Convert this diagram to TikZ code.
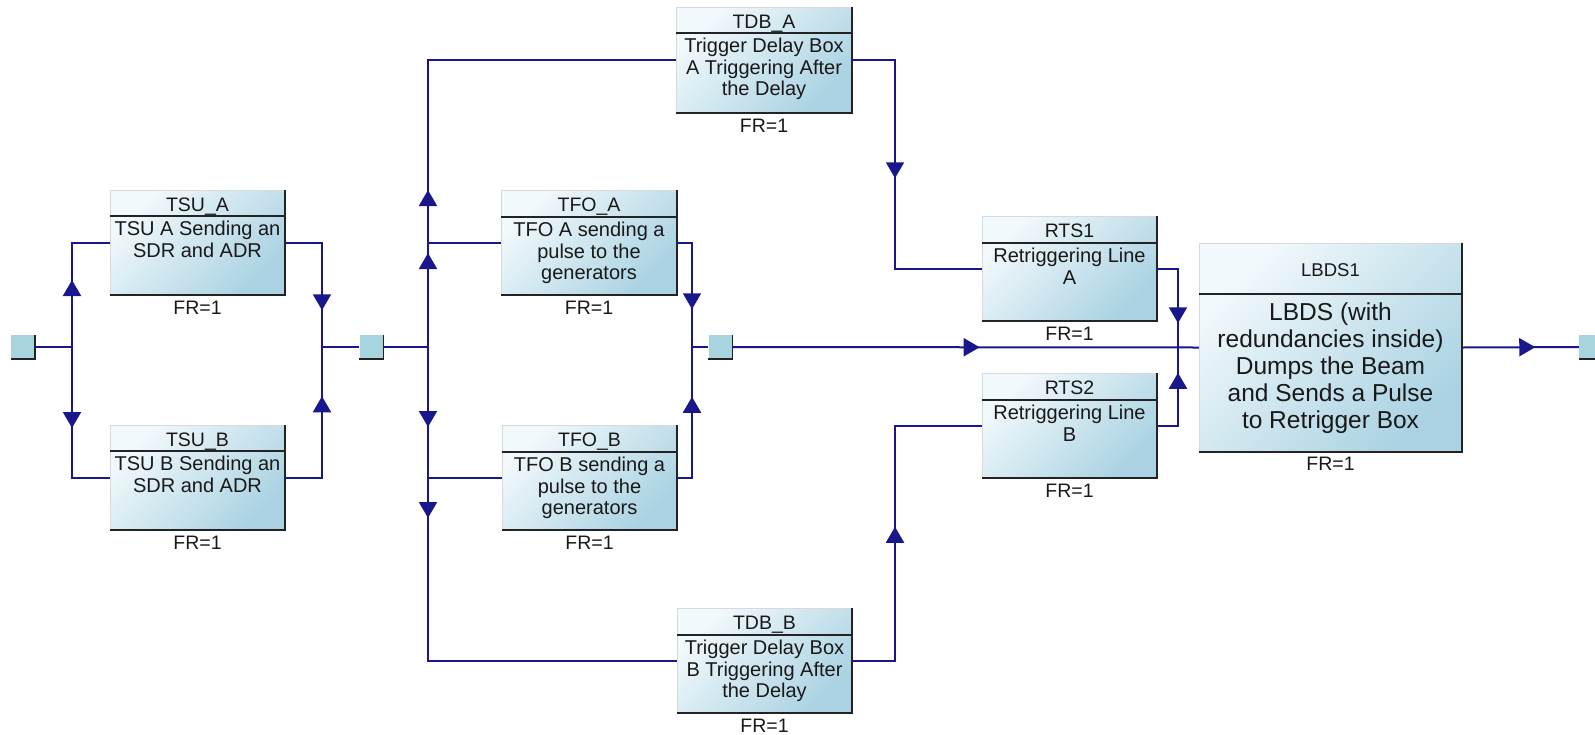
\documentclass[tikz,border=0pt]{standalone}
\usepackage{fontspec}
\setmainfont{Liberation Sans}
\usetikzlibrary{arrows.meta,decorations.markings,calc}
\definecolor{wirec}{RGB}{24,24,140}
\definecolor{boxlight}{RGB}{242,249,252}
\definecolor{boxblue}{RGB}{170,210,226}
\definecolor{sqfill}{RGB}{168,212,224}
\definecolor{edgec}{RGB}{35,35,35}
\definecolor{txt}{RGB}{25,25,25}
\tikzset{
  blk/.style={rectangle, draw=gray!30, line width=0.5pt, top color=boxlight, bottom color=boxblue, shading angle=45, inner sep=0pt},
  shadowline/.style={draw=edgec, line width=2pt},
  divline/.style={draw=edgec, line width=1.6pt},
  ttl/.style={font=\fontsize{19.5}{22}\selectfont, text=txt, inner sep=0pt},
  bdy/.style={font=\fontsize{20}{21.5}\selectfont, text=txt, align=center, inner sep=0pt},
  frl/.style={font=\fontsize{19.5}{22}\selectfont, text=txt, inner sep=0pt},
  sq/.style={rectangle, fill=sqfill, minimum size=24pt, inner sep=0pt},
  wire/.style={draw=wirec, line width=2pt},
  arr/.style={postaction={decorate}, decoration={markings, mark=at position #1 with {\arrow{Triangle[width=18pt,length=16pt]}}}},
}
\def\tboff{22pt}
\def\bdoff{5.5pt}
\def\froff{19pt}
\newcommand\rbd[7]{%
  \node[blk, minimum width=#3pt, minimum height=#4pt] (#1) at #2 {};
  \draw[divline] ([yshift=-#5pt]#1.north west) -- ([yshift=-#5pt]#1.north east);
  \draw[shadowline] (#1.north east) -- (#1.south east) -- (#1.south west);
  \node[ttl, anchor=base] (#1-t) at ([yshift=-\tboff]#1.north) {#6};
  \node[bdy, anchor=north] (#1-b) at ([yshift=-#5pt-\bdoff]#1.north) {#7};
  \node[frl, anchor=base] (#1-f) at ([yshift=-\froff]#1.south) {FR=1};
}
\newcommand\sqn[2]{%
  \node[sq] (#1) at #2 {};
  \draw[edgec, line width=1.5pt] (#1.north east) -- (#1.south east) -- (#1.south west);
}
\begin{document}
\begin{tikzpicture}[x=1pt, y=-1pt]
\useasboundingbox (0,0) rectangle (1595,734);

% blocks
\rbd{tsua}{(197.5,242.5)}{175}{105}{26}{TSU\_A}{TSU A Sending an\\SDR and ADR}
\rbd{tsub}{(197.5,477.5)}{175}{105}{26}{TSU\_B}{TSU B Sending an\\SDR and ADR}
\rbd{tfoa}{(589,242.5)}{175}{105}{27}{TFO\_A}{TFO A sending a\\pulse to the\\generators}
\rbd{tfob}{(589.5,477.5)}{175}{105}{27}{TFO\_B}{TFO B sending a\\pulse to the\\generators}
\rbd{tdba}{(764,60)}{176}{106}{26}{TDB\_A}{Trigger Delay Box\\A Triggering After\\the Delay}
\rbd{tdbb}{(764.5,660.5)}{175}{105}{27}{TDB\_B}{Trigger Delay Box\\B Triggering After\\the Delay}
\rbd{rts1}{(1069.5,268.5)}{175}{105}{27}{RTS1}{Retriggering Line\\A}
\rbd{rts2}{(1069.5,425.5)}{175}{105}{27}{RTS2}{Retriggering Line\\B}
\begin{scope}[ttl/.style={font=\fontsize{18.5}{22}\selectfont, text=txt, inner sep=0pt},
              bdy/.style={font=\fontsize{24.5}{27}\selectfont, text=txt, align=center, inner sep=0pt}]
\def\tboff{34pt}
\def\bdoff{9pt}
\def\froff{18pt}
\rbd{lbds}{(1330.5,347.5)}{263}{209}{51}{LBDS1}{LBDS (with\\redundancies inside)\\Dumps the Beam\\and Sends a Pulse\\to Retrigger Box}
\end{scope}

% squares
\sqn{s1}{(23,347)}
\sqn{s2}{(371.5,347)}
\sqn{s3}{(720.5,347)}
\sqn{s4}{(1591,347)}

% junctions
\coordinate (jL) at (72,347);
\coordinate (jR) at (322,347);
\coordinate (jM) at (428,347);
\coordinate (jT) at (692,347);
\coordinate (kA) at (895,347);
\coordinate (jX) at (1178,347);

% connectors
\draw[wire] (s1.east) -- (jL);
\draw[wire, arr=67pt] (jL) |- (tsua.west);
\draw[wire, arr=81pt] (jL) |- (tsub.west);
\draw[wire, arr=104.5pt] (tsua.east) -| (jR);
\draw[wire, arr=118pt] (tsub.east) -| (jR);
\draw[wire] (jR) -- (s2.west);
\draw[wire] (s2.east) -- (jM);
\draw[wire, arr=94pt] (jM) |- (tfoa.west);
\draw[wire, arr=157pt] (jM) |- (tdba.west);
\draw[wire, arr=80pt] (jM) |- (tfob.west);
\draw[wire, arr=171pt] (jM) |- (tdbb.west);
\draw[wire, arr=82pt] (tfoa.east) -| (jT);
\draw[wire, arr=95.5pt] (tfob.east) -| (jT);
\draw[wire] (jT) -- (s3.west);
\draw[wire, arr=247pt] (s3.east) -- (lbds.west);
\draw[wire, arr=161pt] (tdba.east) -| (kA |- rts1.west) -- (rts1.west);
\draw[wire, arr=176.5pt] (tdbb.east) -| (kA |- rts2.west) -- (rts2.west);
\draw[wire, arr=75.5pt] (rts1.east) -| (jX);
\draw[wire, arr=73.5pt] (rts2.east) -| (jX);
\draw[wire, arr=73pt] (lbds.east) -- (s4.west);
\end{tikzpicture}
\end{document}
